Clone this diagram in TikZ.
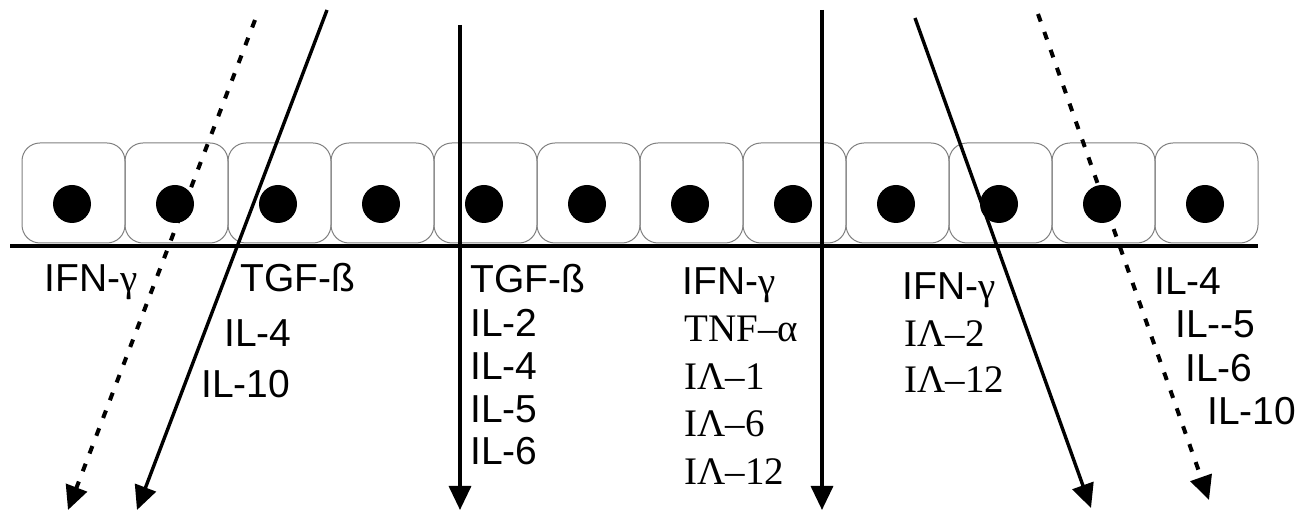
\documentclass[tikz,border=0pt]{standalone}
\usepackage{fontspec}
\setmainfont{Liberation Sans}
\newfontfamily\timesf{Liberation Serif}
\usetikzlibrary{arrows.meta}
\tikzset{
  cell/.style={draw=gray, line width=0.5pt, rounded corners=9pt},
  nucleus/.style={fill=black},
  arr/.style={line width=1.7pt, -{Triangle[length=12pt,width=11pt]}},
  dotarr/.style={arr, line width=2pt, dash pattern=on 4pt off 5.5pt},
  lab/.style={anchor=base west, inner sep=0pt, font=\fontsize{19.5}{22}\selectfont},
  slab/.style={lab, font=\timesf\fontsize{19.5}{22}\selectfont}
}
\newcommand{\gam}{{\timesf γ}}
\begin{document}
\begin{tikzpicture}[x=0.5pt,y=0.5pt]
\useasboundingbox (0,0) rectangle (1313,514);
% epithelial cells
\foreach \i in {0,...,11}{
  \draw[cell] (22+103*\i,271) rectangle ++(103,100);
  \fill[nucleus] (72+103*\i,310) circle (19);
}
% basement membrane
\draw[line width=2.2pt] (10,268) -- (1258,268);

% arrows
\draw[dotarr] (255,494) -- (68,4);
\draw[arr] (327,504) -- (137,4);
\draw[arr] (460,489) -- (460,4);
\draw[arr] (822,504) -- (822,4);
\draw[arr] (915,496) -- (1091,6);
\draw[dotarr] (1038,500) -- (1209,14);

% left labels
\node[lab] (ifnA) at (44,222) {IFN-\gam};
\node[lab] (tgfA) at (240,222) {TGF-ß};
\node[lab] (ilA4) at (224,167) {IL-4};
\node[lab] (ilA10) at (201,116) {IL-10};

% middle labels
\foreach \txt/\yy [count=\i] in {TGF-ß/221, IL-2/177, IL-4/134, IL-5/91, IL-6/49}
  \node[lab] (midA\i) at (470,\yy) {\txt};
\node[lab] (ifnB) at (682,219) {IFN-\gam};
\foreach \txt/\yy [count=\i] in {TNF–α/172, IΛ–1/124, IΛ–6/77, IΛ–12/29}
  \node[slab] (midB\i) at (684,\yy) {\txt};

% right labels
\node[lab] (ifnC) at (902,214) {IFN-\gam};
\node[slab] (rgtA1) at (904,167) {IΛ–2};
\node[slab] (rgtA2) at (904,121) {IΛ–12};
\node[lab] (rgtB1) at (1154,219) {IL-4};
\node[lab] (rgtB2) at (1175,176) {IL-{}-5};
\node[lab] (rgtB3) at (1185,132) {IL-6};
\node[lab] (rgtB4) at (1207,89) {IL-10};
\end{tikzpicture}
\end{document}
